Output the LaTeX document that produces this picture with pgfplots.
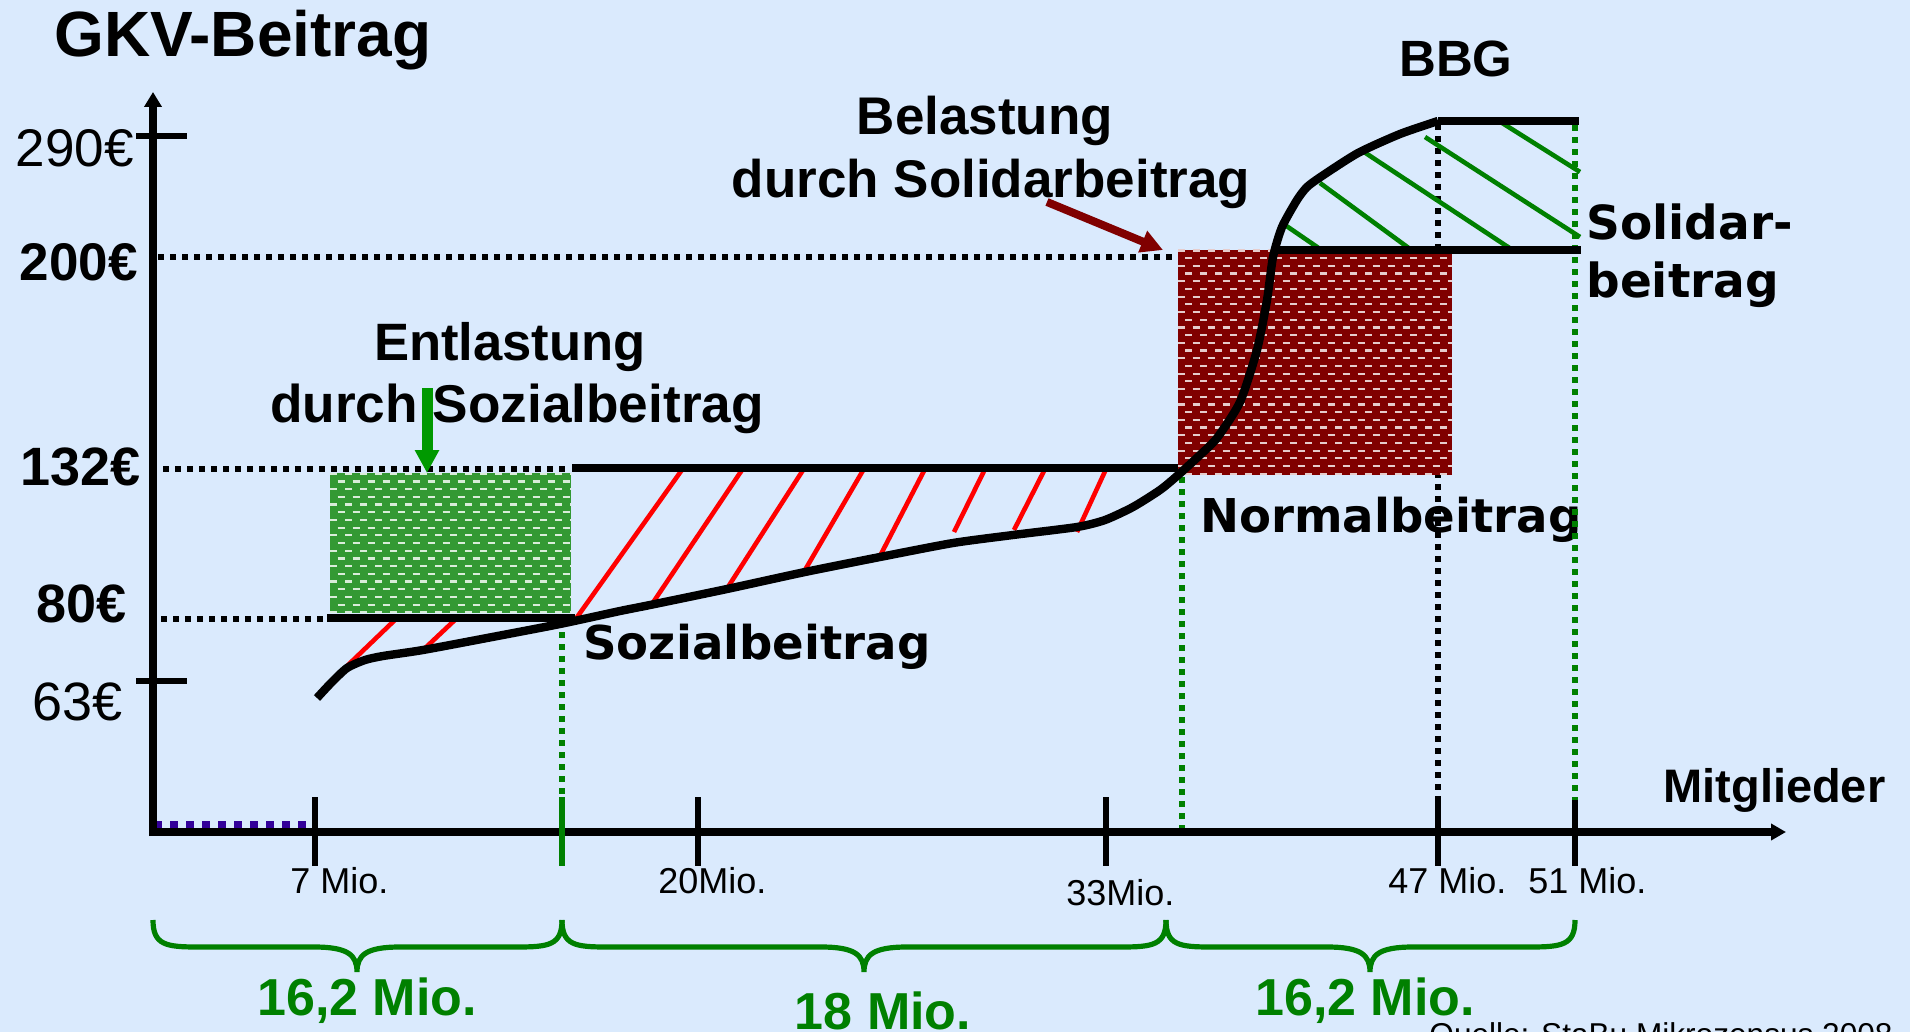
\documentclass[border=0pt]{standalone}
\usepackage{fontspec}
\setmainfont{Liberation Sans}
\newfontfamily\verd{DejaVu Sans}
\usepackage{pgfplots}
\pgfplotsset{compat=1.18}
\usetikzlibrary{arrows.meta,patterns}

\definecolor{bg}{RGB}{218,234,253}
\definecolor{boxgreen}{RGB}{51,153,51}
\definecolor{darkred}{RGB}{128,0,0}
\definecolor{dgreen}{RGB}{0,128,0}
\definecolor{agreen}{RGB}{0,153,0}
\definecolor{purp}{RGB}{51,0,153}

\pgfdeclarepatternformonly{boxdash}{\pgfqpoint{-0.6pt}{-0.6pt}}{\pgfqpoint{8.1pt}{8.3pt}}{\pgfqpoint{7.5pt}{7.7pt}}{%
  \pgfsetlinewidth{1.1pt}%
  \pgfpathmoveto{\pgfqpoint{0pt}{1.9pt}}\pgfpathlineto{\pgfqpoint{3.6pt}{1.9pt}}%
  \pgfpathmoveto{\pgfqpoint{3.75pt}{5.75pt}}\pgfpathlineto{\pgfqpoint{7.35pt}{5.75pt}}%
  \pgfusepath{stroke}}

\tikzset{
  dotb/.style={black, line width=2.6pt, dash pattern=on 3pt off 3pt},
  dotg/.style={dgreen, line width=2.6pt, dash pattern=on 3pt off 3pt},
  thick line/.style={black, line width=3.6pt},
  redh/.style={red, line width=2.3pt},
  grnh/.style={dgreen, line width=2.3pt},
  lbl/.style={inner sep=0pt},
}

\begin{document}
\begin{tikzpicture}
\begin{axis}[x=0.5pt, y=0.5pt, xmin=0, xmax=1910, ymin=0, ymax=1032,
  y dir=reverse, hide axis, clip=false, no markers,
  at={(0,0)}, anchor=south west]

% background
\addplot[fill=bg, draw=none] coordinates {(0,0) (1910,0) (1910,1032) (0,1032)} -- cycle;

% Normalbeitrag label (below the dotted verticals)
\node[lbl, anchor=base west, font=\verd\bfseries\fontsize{23.3}{26}\selectfont] at (axis cs:1200,532) {Normalbeitrag};

% dotted horizontal lines
\addplot[dotb] coordinates {(158,257) (1176,257)};
\addplot[dotb] coordinates {(163,469) (566,469)};
\addplot[dotb] coordinates {(161,619) (326,619)};
\addplot[purp, line width=3.5pt, dash pattern=on 4pt off 4pt] coordinates {(154,824) (310,824)};

% dotted vertical lines
\addplot[dotb] coordinates {(1438,124) (1438,797)};
\addplot[dotg] coordinates {(1575,125) (1575,800)};
\addplot[dotg] coordinates {(1182,477) (1182,830)};
\addplot[dotg] coordinates {(562,632) (562,797)};

% boxes
\addplot[fill=boxgreen, draw=none] coordinates {(330,473) (571,473) (571,613) (330,613)} -- cycle;
\addplot[pattern=boxdash, pattern color=white!82!boxgreen, draw=none] coordinates {(330,473) (571,473) (571,613) (330,613)} -- cycle;
\addplot[fill=darkred, draw=none] coordinates {(1178,250) (1452,250) (1452,475) (1178,475)} -- cycle;
\addplot[pattern=boxdash, pattern color=white!80!darkred, draw=none] coordinates {(1178,250) (1452,250) (1452,475) (1178,475)} -- cycle;

% red hatching
\addplot[redh] coordinates {(347,666) (397,618)};
\addplot[redh] coordinates {(422,651) (457,618)};
\addplot[redh] coordinates {(575,620) (684,467)};
\addplot[redh] coordinates {(652,604) (744,467)};
\addplot[redh] coordinates {(728,587) (805,467)};
\addplot[redh] coordinates {(805,570) (865,467)};
\addplot[redh] coordinates {(880,556) (926,467)};
\addplot[redh] coordinates {(954,532) (986,467)};
\addplot[redh] coordinates {(1014,530) (1046,467)};
\addplot[redh] coordinates {(1077,532) (1107,467)};

% green hatching
\addplot[grnh] coordinates {(1285,225) (1320,249)};
\addplot[grnh] coordinates {(1320,183) (1410,249)};
\addplot[grnh] coordinates {(1361,150) (1511,249)};
\addplot[grnh] coordinates {(1425,137) (1580,237)};
\addplot[grnh] coordinates {(1499,121) (1580,172)};

% contribution levels
\addplot[thick line] coordinates {(327,618) (575,618)};
\addplot[thick line] coordinates {(572,468) (1178,468)};
\addplot[thick line] coordinates {(1276,250) (1581,250)};
\addplot[thick line] coordinates {(1438,121) (1579,121)};

% contribution curve
\addplot[black, line width=4.2pt, smooth, tension=0.4] coordinates {
(317,698) (331,683) (347,668) (365,660) (383,656) (423,650) (487,638) (560,624)
(620,611) (650,605) (727,589) (805,572) (880,557) (953,543) (1013,535) (1077,527)
(1105,520) (1133,507) (1160,490) (1177,476) (1200,455) (1217,438) (1240,402)
(1257,350) (1267,300) (1273,257) (1282,227) (1297,200) (1307,187) (1322,176)
(1358,153) (1400,134) (1438,121)};

% axes
\addplot[black, line width=3.6pt, -{Triangle[length=7.5pt,width=8.5pt]}] coordinates {(153,836) (153,92)};
\addplot[black, line width=3.6pt, -{Triangle[length=7.5pt,width=8pt]}] coordinates {(149,832) (1786,832)};
% y ticks
\addplot[black, line width=3pt] coordinates {(136,136) (187,136)};
\addplot[black, line width=3pt] coordinates {(136,681) (187,681)};
% x ticks
\addplot[black, line width=2.6pt] coordinates {(315,797) (315,866)};
\addplot[black, line width=2.6pt] coordinates {(698,797) (698,866)};
\addplot[black, line width=2.6pt] coordinates {(1106,797) (1106,866)};
\addplot[black, line width=2.6pt] coordinates {(1438,797) (1438,866)};
\addplot[black, line width=2.6pt] coordinates {(1575,800) (1575,866)};
\addplot[dgreen, line width=3pt] coordinates {(562,797) (562,866)};

% arrows
\addplot[agreen, line width=5.5pt, -{Triangle[length=11.5pt,width=11.5pt]}] coordinates {(427,388) (427,473)};
\addplot[darkred, line width=4pt, -{Triangle[length=11pt,width=11pt]}] coordinates {(1047,202) (1163,250)};

% title and labels
\node[lbl, anchor=base west, font=\bfseries\fontsize{32}{36}\selectfont] at (axis cs:54,57) {GKV-Beitrag};
\node[lbl, anchor=base, font=\bfseries\fontsize{25.5}{30}\selectfont] at (axis cs:1456,77) {BBG};
\node[lbl, anchor=base, font=\bfseries\fontsize{26.5}{30}\selectfont] at (axis cs:985,135) {Belastung};
\node[lbl, anchor=base, font=\bfseries\fontsize{26.5}{30}\selectfont] at (axis cs:991,198) {durch Solidarbeitrag};
\node[lbl, anchor=base, font=\bfseries\fontsize{26.3}{30}\selectfont] at (axis cs:510,360) {Entlastung};
\node[lbl, anchor=base, font=\bfseries\fontsize{26.6}{30}\selectfont] at (axis cs:517,422) {durch Sozialbeitrag};
\node[lbl, anchor=base west, font=\verd\bfseries\fontsize{23.5}{26}\selectfont] at (axis cs:1586,240) {Solidar-};
\node[lbl, anchor=base west, font=\verd\bfseries\fontsize{23.5}{26}\selectfont] at (axis cs:1586,297) {beitrag};
\node[lbl, anchor=base west, font=\verd\bfseries\fontsize{23.3}{26}\selectfont] at (axis cs:583,659) {Sozialbeitrag};
\node[lbl, anchor=base west, font=\bfseries\fontsize{23.5}{26}\selectfont] at (axis cs:1663,802) {Mitglieder};

% y labels
\node[lbl, anchor=base east, font=\fontsize{26.5}{30}\selectfont] at (axis cs:134,167) {290€};
\node[lbl, anchor=base east, font=\bfseries\fontsize{26.5}{30}\selectfont] at (axis cs:138,280) {200€};
\node[lbl, anchor=base east, font=\bfseries\fontsize{27}{30}\selectfont] at (axis cs:141,485) {132€};
\node[lbl, anchor=base east, font=\bfseries\fontsize{27}{30}\selectfont] at (axis cs:127,622) {80€};
\node[lbl, anchor=base east, font=\fontsize{27}{30}\selectfont] at (axis cs:123,720) {63€};

% x labels
\node[lbl, anchor=base west, font=\fontsize{18}{20}\selectfont] at (axis cs:290,893) {7 Mio.};
\node[lbl, anchor=base west, font=\fontsize{18}{20}\selectfont] at (axis cs:658,893) {20Mio.};
\node[lbl, anchor=base west, font=\fontsize{18}{20}\selectfont] at (axis cs:1066,905) {33Mio.};
\node[lbl, anchor=base west, font=\fontsize{18}{20}\selectfont] at (axis cs:1388,893) {47 Mio.};
\node[lbl, anchor=base west, font=\fontsize{18}{20}\selectfont] at (axis cs:1528,893) {51 Mio.};

% braces
\draw[dgreen, line width=2.6pt] (axis cs:153,920) .. controls (axis cs:153,945) and (axis cs:166,947) .. (axis cs:198,947)
  -- (axis cs:314,947) .. controls (axis cs:348,947) and (axis cs:357,955) .. (axis cs:357,972)
  .. controls (axis cs:357,955) and (axis cs:366,947) .. (axis cs:400,947)
  -- (axis cs:517,947) .. controls (axis cs:549,947) and (axis cs:562,945) .. (axis cs:562,920);
\draw[dgreen, line width=2.6pt] (axis cs:562,920) .. controls (axis cs:562,945) and (axis cs:575,947) .. (axis cs:607,947)
  -- (axis cs:821,947) .. controls (axis cs:855,947) and (axis cs:864,955) .. (axis cs:864,972)
  .. controls (axis cs:864,955) and (axis cs:873,947) .. (axis cs:907,947)
  -- (axis cs:1121,947) .. controls (axis cs:1153,947) and (axis cs:1166,945) .. (axis cs:1166,920);
\draw[dgreen, line width=2.6pt] (axis cs:1166,920) .. controls (axis cs:1166,945) and (axis cs:1179,947) .. (axis cs:1211,947)
  -- (axis cs:1327,947) .. controls (axis cs:1361,947) and (axis cs:1370,955) .. (axis cs:1370,972)
  .. controls (axis cs:1370,955) and (axis cs:1379,947) .. (axis cs:1413,947)
  -- (axis cs:1530,947) .. controls (axis cs:1562,947) and (axis cs:1575,945) .. (axis cs:1575,920);

\node[lbl, anchor=base, text=dgreen, font=\bfseries\fontsize{26}{30}\selectfont] at (axis cs:367,1015) {16,2 Mio.};
\node[lbl, anchor=base, text=dgreen, font=\bfseries\fontsize{26}{30}\selectfont] at (axis cs:883,1029) {18 Mio.};
\node[lbl, anchor=base, text=dgreen, font=\bfseries\fontsize{26}{30}\selectfont] at (axis cs:1365,1015) {16,2 Mio.};

\node[lbl, anchor=base west, font=\fontsize{15.8}{18}\selectfont] at (axis cs:1429,1045) {Quelle: StaBu Mikrozensus 2008};

\end{axis}
\pgfresetboundingbox
\path[use as bounding box] (current axis.south west) rectangle (current axis.north east);
\end{tikzpicture}
\end{document}
